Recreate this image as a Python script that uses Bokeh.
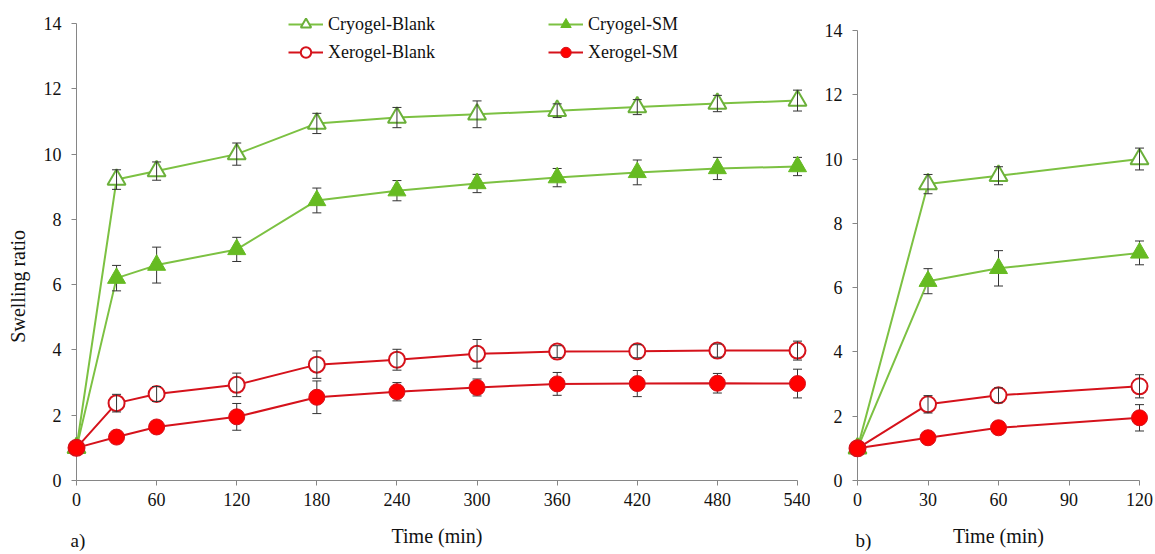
import math
from bokeh.plotting import figure
from bokeh.models import Legend, LegendItem, FixedTicker, Range1d, ColumnDataSource
from bokeh.core.properties import value
from bokeh.layouts import row
from bokeh.embed import file_html
from bokeh.resources import INLINE

# ---- data ----
time_min = [0, 30, 60, 120, 180, 240, 300, 360, 420, 480, 540]
cryogel_blank = [1.0, 9.22, 9.48, 10.0, 10.94, 11.12, 11.22, 11.33, 11.44, 11.55, 11.64]
cryogel_blank_err = [0.0, 0.30, 0.28, 0.34, 0.31, 0.31, 0.41, 0.21, 0.23, 0.25, 0.32]
cryogel_sm = [1.0, 6.2, 6.6, 7.08, 8.58, 8.88, 9.1, 9.28, 9.44, 9.56, 9.62]
cryogel_sm_err = [0.0, 0.39, 0.55, 0.37, 0.38, 0.31, 0.28, 0.28, 0.38, 0.34, 0.28]
xerogel_blank = [1.0, 2.37, 2.65, 2.93, 3.55, 3.7, 3.88, 3.95, 3.96, 3.98, 3.98]
xerogel_blank_err = [0.0, 0.27, 0.23, 0.36, 0.42, 0.32, 0.44, 0.18, 0.20, 0.20, 0.29]
xerogel_sm = [1.0, 1.33, 1.64, 1.95, 2.55, 2.72, 2.85, 2.96, 2.97, 2.98, 2.97]
xerogel_sm_err = [0.0, 0.12, 0.10, 0.41, 0.50, 0.28, 0.26, 0.35, 0.40, 0.30, 0.44]

x_ticks_a = [0, 60, 120, 180, 240, 300, 360, 420, 480, 540]
x_ticks_b = [0, 30, 60, 90, 120]
y_ticks = [0, 2, 4, 6, 8, 10, 12, 14]
series_names = ["Cryogel-Blank", "Cryogel-SM", "Xerogel-Blank", "Xerogel-SM"]
panel_tags = ["a)", "b)"]
y_title = "Swelling ratio"

FONT = "Liberation Serif"
GREEN_LINE = "#7CC142"
GREEN_EDGE = "#6BB03A"
GREEN_FILL = "#66BB22"
RED_LINE = "#D5121B"
RED_FILL = "#FF0000"
ERR = "#333333"
AXIS = "#868686"

series = [
    (series_names[0], cryogel_blank, cryogel_blank_err, GREEN_LINE, "triangle", "white", GREEN_EDGE, 18, False),
    (series_names[1], cryogel_sm, cryogel_sm_err, GREEN_LINE, "triangle", GREEN_FILL, GREEN_FILL, 18, True),
    (series_names[2], xerogel_blank, xerogel_blank_err, RED_LINE, "circle", "white", RED_LINE, 16, False),
    (series_names[3], xerogel_sm, xerogel_sm_err, RED_LINE, "circle", RED_FILL, RED_LINE, 16, True),
]


def make_panel(n, xmax, xticks, width, bl, br, ytop, tag, tag_x, tag_y):
    p = figure(width=width, height=554, output_backend="svg", toolbar_location=None,
               x_range=Range1d(0, xmax), y_range=Range1d(0, ytop),
               min_border_left=bl, min_border_right=br, min_border_top=10, min_border_bottom=74)
    p.outline_line_color = None
    p.grid.visible = False
    p.background_fill_color = "white"
    p.border_fill_color = "white"
    for ax in (p.xaxis[0], p.yaxis[0]):
        ax.axis_line_color = AXIS
        ax.major_tick_line_color = AXIS
        ax.minor_tick_line_color = None
        ax.major_tick_out = 5
        ax.major_tick_in = 0
        ax.major_label_text_font = FONT
        ax.major_label_text_font_size = "18px"
        ax.major_label_text_color = "#111111"
        ax.axis_label_text_font = FONT
        ax.axis_label_text_font_size = "20px"
        ax.axis_label_text_font_style = "normal"
        ax.axis_label_text_color = "#111111"
    p.xaxis[0].ticker = FixedTicker(ticks=xticks)
    p.yaxis[0].ticker = FixedTicker(ticks=y_ticks)
    p.yaxis[0].bounds = (0, 14)
    p.xaxis[0].major_label_standoff = 7
    p.yaxis[0].major_label_standoff = 10
    p.xaxis[0].axis_label = "Time (min)"
    p.xaxis[0].axis_label_standoff = 16

    handles = {}
    for name, vals, errs, lcol, mk, fill, mline, size, filled in series:
        t = time_min[:n]
        v = vals[:n]
        e = errs[:n]
        lr = p.line(t, v, line_color=lcol, line_width=2, level="overlay")
        et = [ti for ti, ei in zip(t, e) if ei > 0]
        ev = [vi for vi, ei in zip(v, e) if ei > 0]
        ee = [ei for ei in e if ei > 0]
        src = ColumnDataSource(dict(x=et, lo=[a - b for a, b in zip(ev, ee)],
                                    hi=[a + b for a, b in zip(ev, ee)]))

        def draw_err():
            p.segment(x0="x", y0="lo", x1="x", y1="hi", source=src, line_color=ERR,
                      line_width=1, level="overlay")
            p.scatter(x="x", y="lo", source=src, marker="dash", size=9, line_color=ERR,
                      line_width=1, level="overlay")
            p.scatter(x="x", y="hi", source=src, marker="dash", size=9, line_color=ERR,
                      line_width=1, level="overlay")

        if filled:
            draw_err()
        mr = p.scatter(t, v, marker=mk, size=size, fill_color=fill, line_color=mline,
                       line_width=2 if not filled else 1, level="overlay")
        if not filled:
            draw_err()
        handles[name] = [lr, mr]

    p.text(x=[tag_x], y=[tag_y], text=[tag], text_font=value(FONT), text_font_size="19px",
           text_baseline="middle", text_align="left", text_color="#111111", level="overlay")
    return p, handles


# frame spans canvas y 10..480 in both panels; panel a: 14 at y=23, panel b: 14 at y=30
pa, ha = make_panel(len(time_min), 540, x_ticks_a, 810, 76, 13, 14.4,
                    panel_tags[0], -4.5, -1.85)
pb, hb = make_panel(4, 120, x_ticks_b, 345, 47, 16, 14.62,
                    panel_tags[1], -0.85, -1.88)

# y-axis title of panel a (placed like the reference, slightly below the frame centre)
pa.text(x=[-43.5], y=[5.95], text=[y_title], angle=math.pi / 2, text_font=value(FONT),
        text_font_size="20px", text_baseline="middle", text_align="center",
        text_color="#111111", level="overlay")


def mk_legend(items, loc):
    lg = Legend(items=items, location=loc, orientation="vertical")
    lg.glyph_width = 35
    lg.glyph_height = 26
    lg.spacing = 2
    lg.padding = 0
    lg.margin = 0
    lg.label_standoff = 5
    lg.label_text_font = FONT
    lg.label_text_font_size = "18px"
    lg.label_text_color = "#111111"
    lg.label_height = 20
    lg.border_line_alpha = 0
    lg.background_fill_alpha = 0
    return lg


leg1 = mk_legend([LegendItem(label=series_names[0], renderers=ha[series_names[0]]),
                  LegendItem(label=series_names[2], renderers=ha[series_names[2]])], (212, 415))
leg2 = mk_legend([LegendItem(label=series_names[1], renderers=ha[series_names[1]]),
                  LegendItem(label=series_names[3], renderers=ha[series_names[3]])], (472, 415))
pa.add_layout(leg1)
pa.add_layout(leg2)

layout = row(pa, pb)
open("out.html", "w").write(file_html(layout, INLINE))
